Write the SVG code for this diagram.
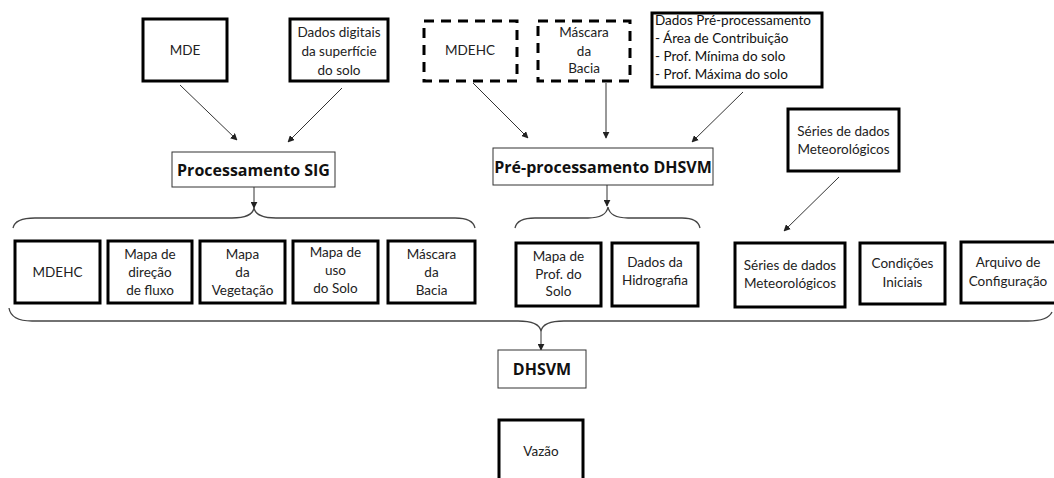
<svg xmlns="http://www.w3.org/2000/svg" width="1054" height="478" viewBox="0 0 1054 478">
<style>
.bg{fill:#fff}
.thick{fill:#fff;stroke:#000;stroke-width:3}
.dash{fill:#fff;stroke:#000;stroke-width:3;stroke-dasharray:10 7}
.thin{fill:#fff;stroke:#333;stroke-width:1}
.t{font-family:Lato,"Open Sans","Liberation Sans",sans-serif;font-size:13.5px;fill:#222;text-anchor:middle}
.tl{font-family:Lato,"Open Sans","Liberation Sans",sans-serif;font-size:13.5px;fill:#111;text-anchor:start}
.b{font-family:"Open Sans","Liberation Sans",sans-serif;font-size:16px;font-weight:bold;fill:#111;text-anchor:middle}
.c{fill:none;stroke:#333;stroke-width:1}
.br{fill:none;stroke:#444;stroke-width:1.3}
</style>
<defs>
<marker id="ah" viewBox="0 0 10 10" refX="9" refY="5" markerWidth="7" markerHeight="7" orient="auto" markerUnits="userSpaceOnUse">
<path d="M0,0 L10,5 L0,10 z" fill="#222"/>
</marker>
</defs>
<rect class="bg" x="0" y="0" width="1054" height="478"/>

<g id="connectors">
<line class="c" x1="180" y1="85" x2="237" y2="140" marker-end="url(#ah)"/>
<line class="c" x1="342" y1="88" x2="288" y2="142" marker-end="url(#ah)"/>
<line class="c" x1="254" y1="187" x2="254" y2="208" marker-end="url(#ah)"/>
<line class="c" x1="473" y1="83" x2="528" y2="138" marker-end="url(#ah)"/>
<line class="c" x1="606" y1="83" x2="606" y2="138" marker-end="url(#ah)"/>
<line class="c" x1="743" y1="92" x2="692" y2="142" marker-end="url(#ah)"/>
<line class="c" x1="607" y1="185" x2="607" y2="206" marker-end="url(#ah)"/>
<line class="c" x1="839" y1="177" x2="784" y2="231" marker-end="url(#ah)"/>
<line class="c" x1="541" y1="331" x2="541" y2="350" marker-end="url(#ah)"/>
<path class="br" d="M13,228 Q15,218 35,218 L232,218 Q252,218 254,208 Q256,218 276,218 L455,218 Q473,218 475,228"/>
<path class="br" d="M515,228 Q517,218 535,218 L588,218 Q606,218 608,207 Q610,218 628,218 L682,218 Q698,218 700,228"/>
<path class="br" d="M9,308 Q11,321 32,321 L518,321 Q539,321 541,331 Q543,321 564,321 L1028,321 Q1048,321 1052,312"/>
</g>

<g id="n-mde"><rect class="thick" x="143" y="19" width="84" height="62"/><text class="t" x="185" y="55">MDE</text></g>
<g id="n-dados-digitais"><rect class="thick" x="290" y="19" width="98" height="62"/>
<text class="t" x="339" y="37">Dados digitais</text><text class="t" x="339" y="56">da superfície</text><text class="t" x="339" y="75">do solo</text></g>

<g id="n-mdehc-top"><rect class="dash" x="424" y="21" width="93" height="60"/><text class="t" x="470" y="55">MDEHC</text></g>
<g id="n-mascara-top"><rect class="dash" x="538" y="21" width="92" height="60"/>
<text class="t" x="584" y="37">Máscara</text><text class="t" x="584" y="56">da</text><text class="t" x="584" y="73">Bacia</text></g>
<g id="n-dados-pre"><rect class="thick" x="652" y="13" width="170" height="74"/>
<text class="tl" x="655" y="25">Dados Pré-processamento</text>
<text class="tl" x="655" y="43">- Área de Contribuição</text>
<text class="tl" x="655" y="61">- Prof. Mínima do solo</text>
<text class="tl" x="655" y="79">- Prof. Máxima do solo</text></g>

<g id="n-sig"><rect class="thin" x="172" y="152" width="163" height="35"/><text class="b" x="253.5" y="176">Processamento SIG</text></g>
<g id="n-pre-dhsvm"><rect class="thin" x="493" y="148" width="220" height="37"/><text class="b" x="603" y="173">Pré-processamento DHSVM</text></g>

<g id="n-series-top"><rect class="thick" x="788" y="109" width="111" height="62"/>
<text class="t" x="843.5" y="136">Séries de dados</text><text class="t" x="843.5" y="154">Meteorológicos</text></g>

<g id="n-mdehc"><rect class="thick" x="15" y="241" width="85" height="62"/><text class="t" x="57.5" y="277">MDEHC</text></g>
<g id="n-direcao"><rect class="thick" x="108" y="241" width="84" height="62"/>
<text class="t" x="150" y="259">Mapa de</text><text class="t" x="150" y="277">direção</text><text class="t" x="150" y="295">de fluxo</text></g>
<g id="n-vegetacao"><rect class="thick" x="200" y="241" width="85" height="62"/>
<text class="t" x="242.5" y="259">Mapa</text><text class="t" x="242.5" y="277">da</text><text class="t" x="242.5" y="295">Vegetação</text></g>
<g id="n-uso"><rect class="thick" x="293" y="241" width="85" height="62"/>
<text class="t" x="335.5" y="257">Mapa de</text><text class="t" x="335.5" y="275">uso</text><text class="t" x="335.5" y="293">do Solo</text></g>
<g id="n-mascara"><rect class="thick" x="388" y="241" width="87" height="62"/>
<text class="t" x="431.5" y="259">Máscara</text><text class="t" x="431.5" y="277">da</text><text class="t" x="431.5" y="295">Bacia</text></g>

<g id="n-prof"><rect class="thick" x="516" y="243" width="85" height="63"/>
<text class="t" x="558.5" y="261">Mapa de</text><text class="t" x="558.5" y="279">Prof. do</text><text class="t" x="558.5" y="296">Solo</text></g>
<g id="n-hidro"><rect class="thick" x="612" y="243" width="86" height="63"/>
<text class="t" x="655" y="267">Dados da</text><text class="t" x="655" y="285">Hidrografia</text></g>

<g id="n-series"><rect class="thick" x="735" y="243" width="110" height="64"/>
<text class="t" x="790" y="270">Séries de dados</text><text class="t" x="790" y="288">Meteorológicos</text></g>
<g id="n-condicoes"><rect class="thick" x="860" y="243" width="85" height="61"/>
<text class="t" x="902.5" y="268">Condições</text><text class="t" x="902.5" y="287">Iniciais</text></g>
<g id="n-arquivo"><rect class="thick" x="961" y="242" width="96" height="61"/>
<text class="t" x="1008" y="267">Arquivo de</text><text class="t" x="1008" y="286">Configuração</text></g>

<g id="n-dhsvm"><rect class="thin" x="498" y="350" width="88" height="38"/><text class="b" x="542" y="375">DHSVM</text></g>
<g id="n-vazao"><rect class="thick" x="499" y="420" width="84" height="70"/><text class="t" x="541" y="456">Vazão</text></g>
</svg>
